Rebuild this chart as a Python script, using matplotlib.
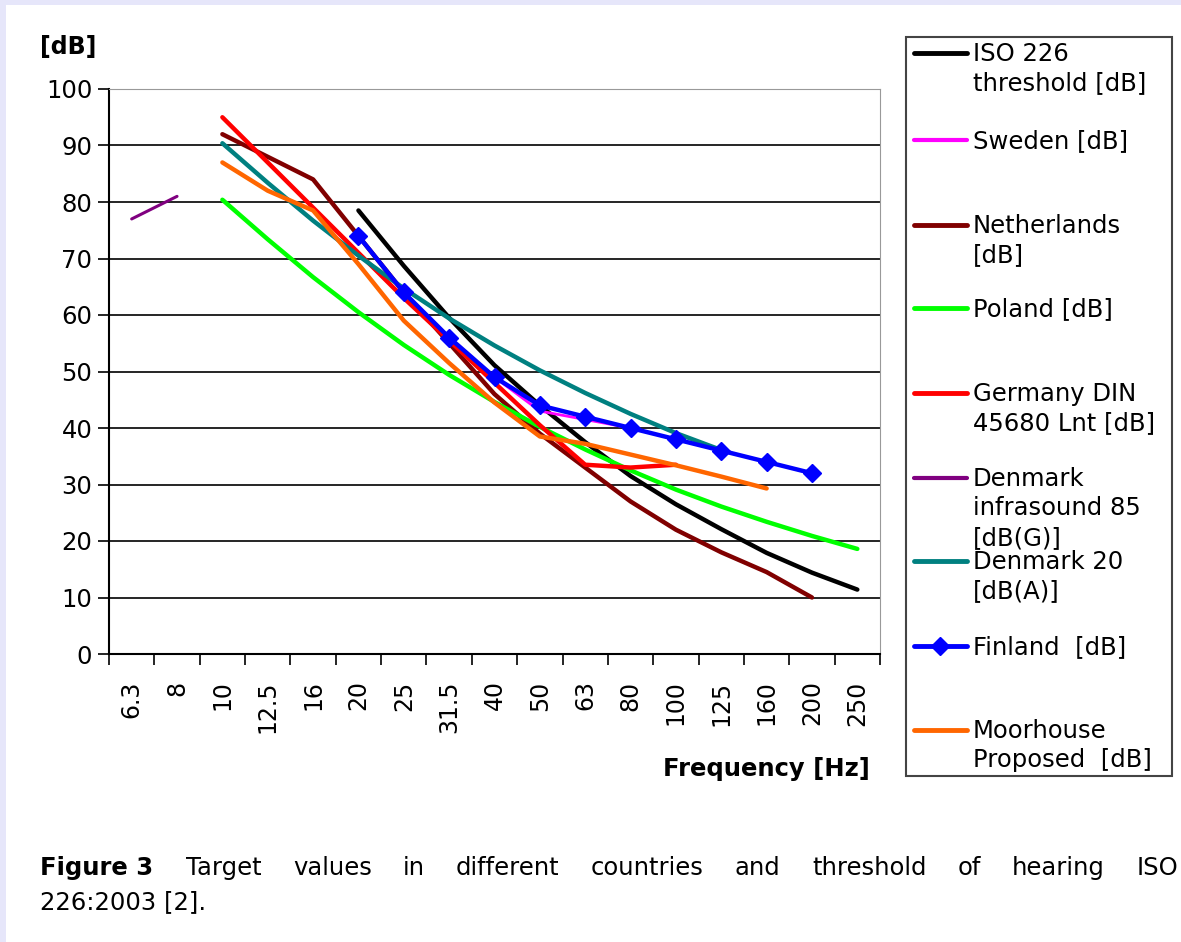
import numpy as np
import matplotlib
matplotlib.use('Agg')
import matplotlib.pyplot as plt
from matplotlib.patches import Rectangle
from matplotlib.lines import Line2D

# Frequency bands (categorical axis)
freqs = ['6.3', '8', '10', '12.5', '16', '20', '25', '31.5', '40', '50',
         '63', '80', '100', '125', '160', '200', '250']

# Values per series, keyed by band label
iso_f = ['20', '25', '31.5', '40', '50', '63', '80', '100', '125', '160', '200', '250']
iso_v = [78.5, 68.7, 59.5, 51.1, 44.0, 37.5, 31.5, 26.5, 22.1, 17.9, 14.4, 11.4]

sweden_f = ['31.5', '40', '50', '63', '80', '100', '125', '160', '200']
sweden_v = [56, 49, 43, 41.5, 40, 38, 36, 34, 32]

nl_f = ['10', '12.5', '16', '20', '25', '31.5', '40', '50', '63', '80', '100', '125', '160', '200']
nl_v = [92, 88, 84, 74, 64, 55, 46, 39, 33, 27, 22, 18, 14.5, 10]

poland_f = ['10', '12.5', '16', '20', '25', '31.5', '40', '50', '63', '80', '100', '125', '160', '200', '250']
poland_v = [80.4, 73.4, 66.7, 60.5, 54.7, 49.4, 44.6, 40.2, 36.2, 32.5, 29.1, 26.1, 23.4, 20.9, 18.6]

germany_f = ['10', '12.5', '16', '20', '25', '31.5', '40', '50', '63', '80', '100']
germany_v = [95, 87, 79, 71, 63, 55.5, 48, 40.5, 33.5, 33, 33.5]

dk_infra_f = ['6.3', '8']
dk_infra_v = [77, 81]

dk20_f = ['10', '12.5', '16', '20', '25', '31.5', '40', '50', '63', '80', '100', '125']
dk20_v = [90.4, 83.4, 76.7, 70.5, 64.7, 59.4, 54.6, 50.2, 46.2, 42.5, 39.1, 36.1]

finland_f = ['20', '25', '31.5', '40', '50', '63', '80', '100', '125', '160', '200']
finland_v = [74, 64, 56, 49, 44, 42, 40, 38, 36, 34, 32]

moor_f = ['10', '12.5', '16', '20', '25', '31.5', '40', '50', '63', '80', '100', '125', '160']
moor_v = [87, 82, 78.5, 69, 59, 51.5, 44.5, 38.5, 37.2, 35.3, 33.4, 31.4, 29.3]

series = [
    ('ISO 226\nthreshold [dB]', iso_f, iso_v, '#000000', 3.2, None),
    ('Sweden [dB]', sweden_f, sweden_v, '#FF00FF', 2.0, None),
    ('Netherlands\n[dB]', nl_f, nl_v, '#800000', 3.2, None),
    ('Poland [dB]', poland_f, poland_v, '#00FF00', 3.2, None),
    ('Germany DIN\n45680 Lnt [dB]', germany_f, germany_v, '#FF0000', 3.2, None),
    ('Denmark\ninfrasound 85\n[dB(G)]', dk_infra_f, dk_infra_v, '#800080', 2.2, None),
    ('Denmark 20\n[dB(A)]', dk20_f, dk20_v, '#008080', 3.2, None),
    ('Finland  [dB]', finland_f, finland_v, '#0000FF', 3.2, 'D'),
    ('Moorhouse\nProposed  [dB]', moor_f, moor_v, '#FF6600', 3.2, None),
]

W, H = 1181, 942
fig = plt.figure(figsize=(W / 100, H / 100), dpi=100)
fig.patch.set_facecolor('#E6E6FA')
fig.patches.append(Rectangle((6 / W, 0), 1, 1 - 5 / H, transform=fig.transFigure,
                             facecolor='white', edgecolor='none', zorder=-5))

ax = fig.add_axes([109 / W, 1 - 654 / H, (880 - 109) / W, (654 - 89) / H])
ax.set_zorder(3)
ax.set_facecolor('white')

idx = {f: i for i, f in enumerate(freqs)}
for label, fs, vs, color, lw, marker in series:
    xs = [idx[f] for f in fs]
    ax.plot(xs, vs, color=color, lw=lw, marker=marker,
            markersize=9 if marker else 0, solid_capstyle='round', zorder=3)

ax.set_xlim(-0.5, len(freqs) - 0.5)
ax.set_ylim(0, 100)
ax.set_yticks(range(0, 101, 10))
ax.grid(axis='y', color='black', lw=1.2)
ax.set_axisbelow(True)
ax.tick_params(axis='y', labelsize=17.5, length=8, width=1.2, direction='out', pad=4)

ax.set_xticks(range(len(freqs)))
ax.set_xticklabels(freqs, rotation=90, fontsize=17)
ax.set_xticks(np.arange(-0.5, len(freqs)), minor=True)
ax.tick_params(axis='x', which='major', length=0, pad=19)
ax.tick_params(axis='x', which='minor', length=8, width=1.2, direction='out')

for s in ['left', 'bottom']:
    ax.spines[s].set_color('black')
    ax.spines[s].set_linewidth(1.5)
ax.spines['top'].set_color('#999999')
ax.spines['right'].set_color('#999999')

fig.text(40 / W, 1 - 47 / H, '[dB]', fontsize=17, fontweight='bold', va='center')
fig.text(870 / W, 1 - 769 / H, 'Frequency [Hz]', fontsize=17.5, fontweight='bold',
         va='center', ha='right')

# Legend drawn by hand to match the box layout
fig.patches.append(Rectangle((906 / W, 1 - 776 / H), (1172 - 906) / W, (776 - 37) / H,
                             transform=fig.transFigure, facecolor='white',
                             edgecolor='#444444', lw=1.5, zorder=1))
leg_y = [53, 140, 225, 308, 393, 478, 561, 646, 730]
for (label, fs, vs, color, lw, marker), y in zip(series, leg_y):
    yf = 1 - y / H
    fig.add_artist(Line2D([914 / W, 967 / W], [yf, yf], color=color,
                          lw=3.5 if lw > 2.5 else 3.0, solid_capstyle='round'))
    if marker:
        fig.add_artist(Line2D([940 / W], [yf], color=color, marker='D', markersize=9,
                              linestyle='none'))
    fig.text(973 / W, yf + 11 / H, label, fontsize=17.5, va='top', linespacing=1.28)

# Caption, justified across the first line
cap_y1 = 1 - 868 / H
fig.text(40 / W, cap_y1, 'Figure 3', fontsize=17.5, fontweight='bold', va='center')
words = 'Target values in different countries and threshold of hearing ISO'.split()
r = fig.canvas.get_renderer()
txts = [fig.text(0, cap_y1, w, fontsize=17.5, va='center') for w in words]
widths = [t.get_window_extent(r).width for t in txts]
x0, x1 = 186, 1178
gap = (x1 - x0 - sum(widths)) / (len(words) - 1)
x = x0
for t, wd in zip(txts, widths):
    t.set_x(x / W)
    x += wd + gap
fig.text(40 / W, 1 - 902 / H, '226:2003 [2].', fontsize=17.5, va='center')

fig.savefig('out.png', dpi=100, facecolor=fig.get_facecolor())
